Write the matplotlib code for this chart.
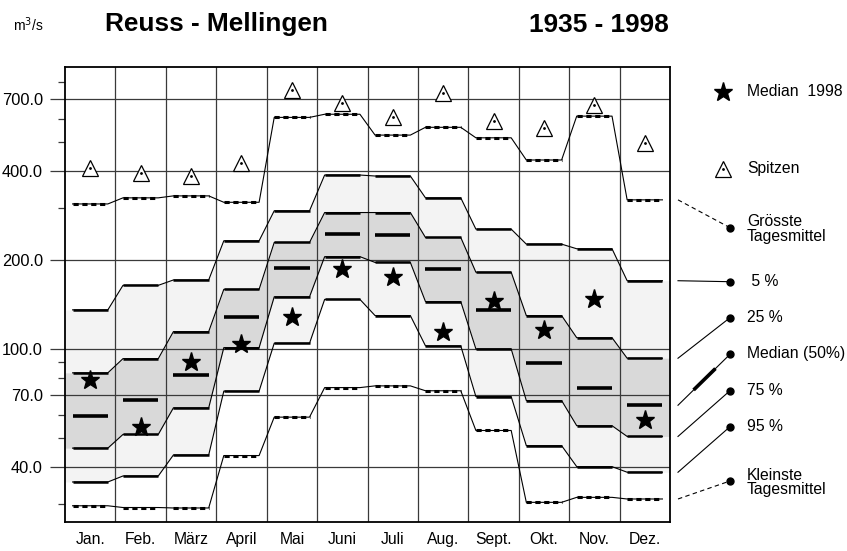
import matplotlib
matplotlib.use("Agg")
import matplotlib.pyplot as plt
from matplotlib.lines import Line2D
from matplotlib.ticker import FixedLocator, NullFormatter, FuncFormatter
import numpy as np

plt.rcParams['font.family'] = ['Liberation Sans', 'DejaVu Sans']

months = ["Jan.", "Feb.", "März", "April", "Mai", "Juni", "Juli", "Aug.", "Sept.", "Okt.", "Nov.", "Dez."]
spitzen = [408, 394, 384, 424, 750, 679, 606, 731, 589, 557, 667, 495]
groesste = [309, 324, 329, 313, 606, 621, 528, 561, 517, 435, 612, 319]
p5 = [135.5, 164, 171, 232, 293, 387, 384, 324, 254, 226, 218, 170]
p25 = [83, 92.7, 114.4, 159, 229, 289, 289, 238, 181.6, 129.6, 109.1, 93]
median = [59.5, 67.4, 81.5, 128.5, 187, 244.6, 243, 186, 135.5, 89.7, 73.8, 64.5]
p75 = [46.2, 51.4, 63.2, 101, 150, 205, 196, 144.5, 100, 66.9, 55, 50.6]
p95 = [35.5, 37.2, 43.8, 72, 104.5, 147, 129.6, 102.4, 69, 47.1, 40.0, 38.3]
kleinste = [29.5, 29.1, 29.0, 43.6, 58.8, 74.0, 75.0, 72.2, 53.0, 30.3, 31.5, 31.1]
median1998 = [78.6, 54.4, 90.4, 104, 128, 186, 174.7, 113.8, 145.6, 115.9, 147, 57.3]
major_ticks = [40, 70, 100, 200, 400, 700]
minor_ticks = [30, 50, 60, 80, 90, 300, 500, 600, 800]

W, H = 847, 551
fig = plt.figure(figsize=(W / 100, H / 100), dpi=100)
ax = fig.add_axes([65 / W, 1 - 522 / H, 605 / W, 455 / H])
ax.set_yscale('log')
ax.set_xlim(0, 12)
ax.set_ylim(26, 897)

a, b = 0.15, 0.85


def step_path(vals, edges=False):
    xs, ys = [], []
    if edges:
        xs.append(0); ys.append(vals[0])
    for i, v in enumerate(vals):
        xs += [i + a, i + b]
        ys += [v, v]
    if edges:
        xs.append(12); ys.append(vals[-1])
    return np.array(xs), np.array(ys)


# fills
x5, y5 = step_path(p5, True)
x95, y95 = step_path(p95, True)
x25, y25 = step_path(p25, True)
x75, y75 = step_path(p75, True)
ax.fill_between(x5, y95, y5, color='#f3f3f3', lw=0, zorder=1)
ax.fill_between(x25, y75, y25, color='#d9d9d9', lw=0, zorder=1.1)

# grid
for m in range(1, 12):
    ax.axvline(m, color='#3a3a3a', lw=0.9, zorder=2)
for t in major_ticks:
    ax.axhline(t, color='#3a3a3a', lw=0.9, zorder=2)

# percentile lines
for vals in [p5, p25, p75, p95]:
    xs, ys = step_path(vals)
    ax.plot(xs, ys, color='black', lw=0.8, zorder=3)
    for i, v in enumerate(vals):
        ax.plot([i + a, i + b], [v, v], color='black', lw=1.8, solid_capstyle='butt', zorder=3)

# extremes
for vals in [groesste, kleinste]:
    xs, ys = step_path(vals)
    ax.plot(xs, ys, color='black', lw=0.8, zorder=3)
    for i, v in enumerate(vals):
        ax.plot([i + a, i + b], [v, v], color='black', lw=2.2,
                linestyle=(0, (1.7, 1.2)), dash_capstyle='butt', zorder=3.1)

# median bars
for i, v in enumerate(median):
    ax.plot([i + a, i + b], [v, v], color='black', lw=2.6, solid_capstyle='butt', zorder=3.2)

centers = np.arange(12) + 0.5
ax.plot(centers, median1998, linestyle='none', marker='*', ms=14, color='black', mec='black', zorder=4)
ax.plot(centers, spitzen, linestyle='none', marker='^', ms=11, mfc='white', mec='black', mew=0.9, zorder=4)
ax.plot(centers, spitzen, linestyle='none', marker='o', ms=1.0, color='black', zorder=4.1)

# axes styling
for s in ax.spines.values():
    s.set_linewidth(1.3)
    s.set_zorder(5)
ax.yaxis.set_major_locator(FixedLocator(major_ticks))
ax.yaxis.set_minor_locator(FixedLocator(minor_ticks))
ax.yaxis.set_major_formatter(FuncFormatter(lambda v, p: f"{v:.1f}"))
ax.yaxis.set_minor_formatter(NullFormatter())
ax.tick_params(axis='y', which='major', length=11, width=0.9, pad=5, labelsize=11.8, color='#3a3a3a')
ax.tick_params(axis='y', which='minor', length=5, width=0.9, color='#3a3a3a')
ax.set_xticks(centers)
ax.set_xticklabels(months)
ax.tick_params(axis='x', length=0, pad=7, labelsize=11.3)
ax.xaxis.set_minor_locator(FixedLocator([]))


# titles
def fp(x, y):
    return (x / W, 1 - y / H)


fig.text(*fp(13, 31), r"m$^3$/s", fontsize=10, ha='left', va='baseline')
fig.text(*fp(105, 31.5), "Reuss - Mellingen", fontsize=18.9, fontweight='bold', ha='left', va='baseline')
fig.text(*fp(669, 31.5), "1935 - 1998", fontsize=18.9, fontweight='bold', ha='right', va='baseline')

# legend
fs = 11.3
fig.add_artist(Line2D([723 / W], [1 - 92 / H], marker='*', ms=14, color='black', linestyle='none'))
fig.text(*fp(747, 92), "Median  1998", fontsize=fs, va='center', ha='left')
fig.add_artist(Line2D([723 / W], [1 - 169 / H], marker='^', ms=11, mfc='white', mec='black', mew=0.9, linestyle='none'))
fig.add_artist(Line2D([723 / W], [1 - 169 / H], marker='o', ms=1.0, color='black', linestyle='none'))
fig.text(*fp(747, 169), "Spitzen", fontsize=fs, va='center', ha='left')

fig.canvas.draw()


def yfrac(val):
    return ax.transData.transform((12, val))[1] / H


entries = [
    (groesste[-1], 227.7, "Grösste\nTagesmittel", 'dash'),
    (p5[-1], 281.7, " 5 %", 'solid'),
    (p25[-1], 317.7, "25 %", 'solid'),
    (median[-1], 354.3, "Median (50%)", 'median'),
    (p75[-1], 390.7, "75 %", 'solid'),
    (p95[-1], 426.7, "95 %", 'solid'),
    (kleinste[-1], 481, "Kleinste\nTagesmittel", 'dash'),
]
for val, ydot, label, kind in entries:
    x0, y0 = 678 / W, yfrac(val)
    x1, y1 = 730 / W, 1 - ydot / H
    ls = (0, (4, 3)) if kind == 'dash' else '-'
    fig.add_artist(Line2D([x0, x1], [y0, y1], color='black', lw=0.8, linestyle=ls))
    if kind == 'median':
        fx0 = x0 + 0.3 * (x1 - x0); fy0 = y0 + 0.3 * (y1 - y0)
        fx1 = x0 + 0.72 * (x1 - x0); fy1 = y0 + 0.72 * (y1 - y0)
        fig.add_artist(Line2D([fx0, fx1], [fy0, fy1], color='black', lw=2.6, solid_capstyle='butt'))
    fig.add_artist(Line2D([x1], [y1], marker='o', ms=5, color='black', linestyle='none'))
    multi = '\n' in label
    fig.text(747 / W, y1 + (0.5 / H if not multi else -1.5 / H), label, fontsize=fs,
             va='center', ha='left', linespacing=0.95 if multi else 1.2)

fig.savefig("out.png", dpi=100)
